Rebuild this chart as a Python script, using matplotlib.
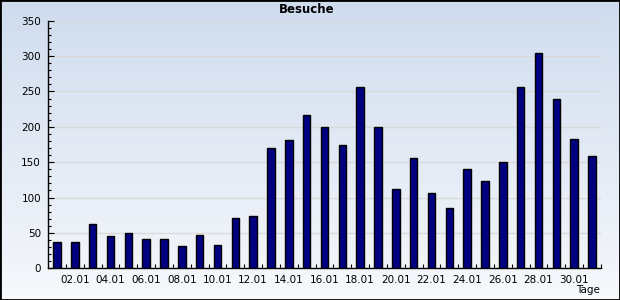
import numpy as np
import matplotlib.pyplot as plt
from matplotlib.colors import LinearSegmentedColormap
from matplotlib.patches import Rectangle
from matplotlib.ticker import FixedLocator, MultipleLocator

# visits per day, January
days = list(range(1, 32))
visits = [37, 37, 62, 45, 50, 41, 42, 31, 47, 33, 71, 74, 170, 181, 216, 200,
          174, 256, 200, 112, 156, 106, 85, 141, 123, 150, 256, 304, 239, 183, 159]
day_labels = ["%02d.01" % d for d in days]

fig = plt.figure(figsize=(6.2, 3.0), dpi=100)

# background gradient over the whole figure
bg = fig.add_axes([0, 0, 1, 1], zorder=-10)
cmap = LinearSegmentedColormap.from_list(
    "bg", [(0.0, "#cfdcee"), (0.9, "#f2f5fa"), (1.0, "#f8fafd")])
grad = np.linspace(0, 1, 256).reshape(-1, 1)
bg.imshow(grad, aspect="auto", cmap=cmap, extent=[0, 1, 0, 1], origin="upper")
bg.set_axis_off()

ax = fig.add_axes([48 / 620, 31.7 / 300, 553 / 620, 247.6 / 300])
ax.set_facecolor("none")

ax.bar(days, visits, width=0.42, color="#000080", edgecolor="black",
       linewidth=1.0, zorder=3)

ax.set_xlim(0.5, 31.5)
ax.set_ylim(0, 350)

# y axis
ax.yaxis.set_major_locator(MultipleLocator(50))
ax.yaxis.set_minor_locator(MultipleLocator(10))
ax.tick_params(axis="y", which="major", direction="in", length=4, width=0.8,
               pad=5, labelsize=7.5)
ax.tick_params(axis="y", which="minor", direction="in", length=2.2, width=0.8)
ax.grid(axis="y", which="major", color="#d9d9d9", linewidth=1.0, zorder=0)

# x axis: labels on even days, ticks between bars
even = [d for d in days if d % 2 == 0]
ax.set_xticks(even)
ax.set_xticklabels([day_labels[d - 1] for d in even])
ax.xaxis.set_minor_locator(FixedLocator([d + 0.5 for d in days]))
ax.tick_params(axis="x", which="major", length=0, pad=5, labelsize=7.5)
ax.tick_params(axis="x", which="minor", direction="in", length=3, width=0.8)

for side in ["top", "right"]:
    ax.spines[side].set_visible(False)
for side in ["left", "bottom"]:
    ax.spines[side].set_color("black")
    ax.spines[side].set_linewidth(1.0)

fig.text(307 / 620, 1 - 13 / 300, "Besuche", ha="center", va="baseline",
         fontsize=8.5, fontweight="bold")
fig.text(600 / 620, 1 - 293 / 300, "Tage", ha="right", va="baseline",
         fontsize=7.5)

# outer frame
fig.patches.append(Rectangle((0, 0), 1, 1, transform=fig.transFigure,
                             fill=False, edgecolor="black", linewidth=2))

fig.savefig("out.png", dpi=100)
